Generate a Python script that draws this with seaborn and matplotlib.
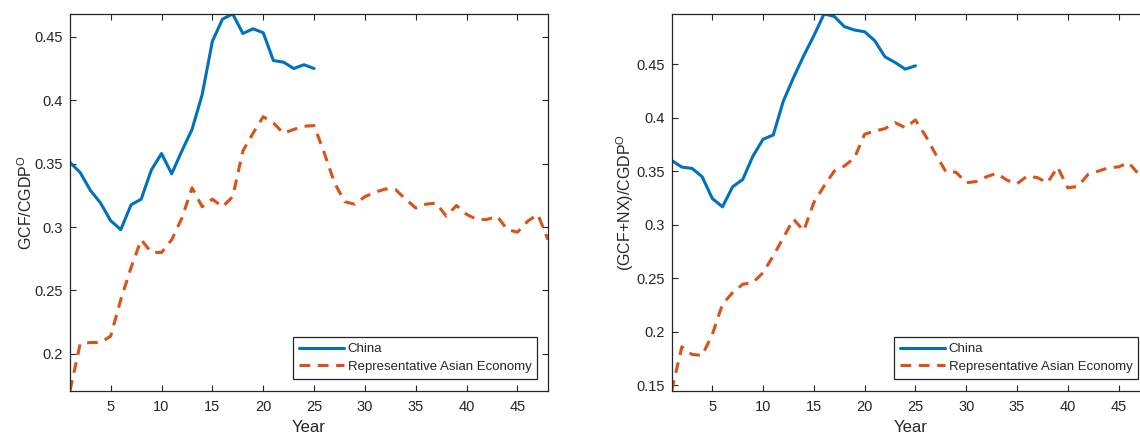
import numpy as np
import pandas as pd
import matplotlib
matplotlib.use("Agg")
import matplotlib.pyplot as plt
import seaborn as sns

# Investment shares by year since take-off
years_china = list(range(1, 26))
years_asia = list(range(1, 49))

gcf_china = [0.351, 0.343, 0.329, 0.319, 0.305, 0.298, 0.3175, 0.322, 0.345, 0.358,
             0.342, 0.360, 0.377, 0.4045, 0.4465, 0.464, 0.468, 0.4526, 0.4563, 0.4532,
             0.4313, 0.430, 0.425, 0.428, 0.425]
gcf_asia = [0.171, 0.208, 0.209, 0.209, 0.214, 0.243, 0.268, 0.290, 0.280, 0.280,
            0.290, 0.307, 0.331, 0.316, 0.322, 0.316, 0.324, 0.360, 0.374, 0.387,
            0.382, 0.374, 0.377, 0.3795, 0.380, 0.3585, 0.335, 0.320, 0.318, 0.324,
            0.3275, 0.330, 0.3296, 0.322, 0.315, 0.318, 0.319, 0.3085, 0.317, 0.310,
            0.306, 0.306, 0.3085, 0.298, 0.296, 0.3046, 0.310, 0.290]

gcfnx_china = [0.360, 0.3538, 0.3526, 0.3448, 0.3245, 0.3167, 0.3354, 0.3423, 0.3641, 0.3798,
               0.3838, 0.4156, 0.4375, 0.4578, 0.4765, 0.4968, 0.4946, 0.485, 0.4818, 0.4802,
               0.4718, 0.4568, 0.4515, 0.4453, 0.4484]
gcfnx_asia = [0.145, 0.186, 0.1788, 0.178, 0.1975, 0.2257, 0.2366, 0.2444, 0.246, 0.2552,
              0.2709, 0.288, 0.3052, 0.2943, 0.3208, 0.336, 0.350, 0.3548, 0.3625, 0.3845,
              0.3875, 0.3897, 0.3953, 0.3906, 0.3978, 0.3829, 0.3657, 0.3494, 0.349, 0.3392,
              0.3403, 0.3448, 0.348, 0.3417, 0.3382, 0.3454, 0.344, 0.3392, 0.3538, 0.3345,
              0.3357, 0.347, 0.350, 0.3532, 0.354, 0.3579, 0.347, 0.336]

series_labels = ["China", "Representative Asian Economy"]
y_labels = [r"GCF/CGDP$^{\mathrm{O}}$", r"(GCF+NX)/CGDP$^{\mathrm{O}}$"]
x_label = "Year"
x_ticks = [5, 10, 15, 20, 25, 30, 35, 40, 45]
y_ticks_left = [0.2, 0.25, 0.3, 0.35, 0.4, 0.45]
y_ticks_right = [0.15, 0.2, 0.25, 0.3, 0.35, 0.4, 0.45]

sns.set_style("ticks")
plt.rcParams["font.family"] = ["Liberation Sans", "DejaVu Sans"]
plt.rcParams["mathtext.fontset"] = "custom"
plt.rcParams["mathtext.rm"] = "Liberation Sans"
plt.rcParams["mathtext.it"] = "Liberation Sans:italic"
plt.rcParams["mathtext.bf"] = "Liberation Sans:bold"

BLUE = "#0072BD"
ORANGE = "#D95319"
INK = "#262626"
DASH = (3.5, 2.5)

fig = plt.figure(figsize=(11.40, 4.34), dpi=100)
ax_l = fig.add_axes([0.0614, 0.0998, 0.4193, 0.868])
ax_r = fig.add_axes([0.5892, 0.0998, 0.4187, 0.868])

panels = [
    (ax_l, gcf_china, gcf_asia, y_labels[0], y_ticks_left, (min(gcf_asia), max(gcf_china))),
    (ax_r, gcfnx_china, gcfnx_asia, y_labels[1], y_ticks_right, (min(gcfnx_asia), max(gcfnx_china))),
]

for ax, china, asia, ylab, yt, ylim in panels:
    df_c = pd.DataFrame({"Year": years_china, "value": china})
    df_a = pd.DataFrame({"Year": years_asia, "value": asia})
    sns.lineplot(data=df_c, x="Year", y="value", ax=ax, color=BLUE, linewidth=2.2,
                 label=series_labels[0])
    sns.lineplot(data=df_a, x="Year", y="value", ax=ax, color=ORANGE, linewidth=2.2,
                 dashes=False, label=series_labels[1])
    ax.lines[-1].set_dashes(DASH)
    ax.set_xlim(1, 48)
    ax.set_ylim(*ylim)
    ax.set_xticks(x_ticks)
    ax.set_yticks(yt)
    ax.set_yticklabels([f"{v:g}" for v in yt])
    ax.set_xlabel(x_label, fontsize=12, color=INK, labelpad=4)
    ax.set_ylabel(ylab, fontsize=11.5, color=INK, labelpad=0)
    ax.tick_params(direction="in", length=4.5, width=0.8, top=True, right=True,
                   labelsize=10.5, colors=INK)
    ax.tick_params(axis="x", pad=7)
    ax.tick_params(axis="y", pad=5)
    for sp in ax.spines.values():
        sp.set_visible(True)
        sp.set_color(INK)
        sp.set_linewidth(0.9)
    leg = ax.legend(loc="lower right", bbox_to_anchor=(0.9776, 0.031), borderaxespad=0,
                    fontsize=9.5, frameon=True, fancybox=False, handlelength=3.4,
                    handletextpad=0.3, borderpad=0.45, labelspacing=0.42)
    leg.get_frame().set_edgecolor(INK)
    leg.get_frame().set_linewidth(0.9)
    leg.get_frame().set_alpha(1)
    leg.get_lines()[1].set_dashes(DASH)

fig.savefig("out.png", dpi=100)
